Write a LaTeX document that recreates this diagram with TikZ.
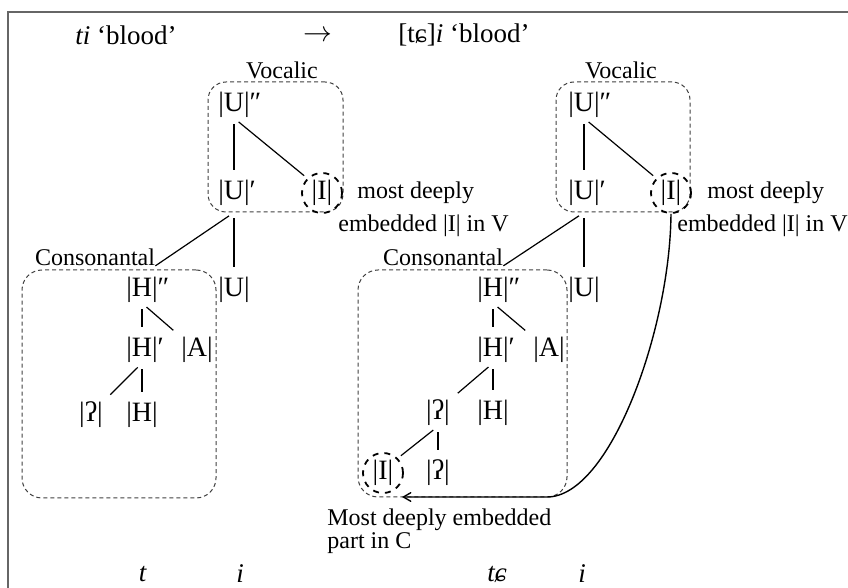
\documentclass[tikz,border=0pt]{standalone}
\usepackage{fontspec}
\setmainfont{Liberation Serif}
\usetikzlibrary{arrows}

\begin{document}
\begin{tikzpicture}[x=0.5pt,y=-0.5pt,>=angle 60,
                    feat node/.style={font=\fontsize{14}{16}\selectfont,inner sep=0pt},
                    ring node/.style={circle,draw,dashed,line width=0.9pt,minimum size=20pt,inner sep=0pt,
                                      font=\fontsize{14}{16}\selectfont},
                    tag node/.style={font=\fontsize{12}{14}\selectfont,inner sep=0pt},
                    note node/.style={tag node,anchor=west},
                    title node/.style={font=\fontsize{13.5}{16}\selectfont,inner sep=0pt},
                    box node/.style={draw=black!75,rounded corners=9pt,dash pattern=on 2pt off 1.5pt,line width=0.5pt},
                    branch/.style={line width=0.6pt,shorten <=3pt,shorten >=5pt}]
  \useasboundingbox (0,0) rectangle (848,588);
  \draw[line width=1pt,black!60] (8,588) -- (8,12) -- (848,12);

  % headings
  \node[title node,anchor=west] (srcL) at (75,35) {\textit{ti} ‘blood’};
  \node[title node] (arr) at (318,36) {$\rightarrow$};
  \node[title node,anchor=west] (srcR) at (398,35) {[tɕ]\textit{i} ‘blood’};

  % left structure
  \node[box node,minimum width=67.5pt,minimum height=65pt] (vocL) at (275.5,147) {};
  \node[tag node] (vocLlab) at (282,70) {Vocalic};
  \node[feat node] (vU2L) at (234,105) {|U|\rlap{″}};
  \node[feat node] (vU1L) at (234,193) {|U|\rlap{′}};
  \node[ring node] (vIL) at (322,193) {|I|};
  \node[note node] (mostL) at (357,193) {most deeply};
  \node[note node] (embL) at (338,226) {embedded |I| in V};
  \node[tag node] (consLlab) at (95,257) {Consonantal};
  \node[feat node] (uL) at (234,290) {|U|};
  \node[box node,minimum width=97pt,minimum height=114pt,rounded corners=10pt] (consL) at (119,384) {};
  \node[feat node] (hH2L) at (142,290) {|H|\rlap{″}};
  \node[feat node] (hH1L) at (142,350) {|H|\rlap{′}};
  \node[feat node] (aL) at (197,350) {|A|};
  \node[feat node] (gL) at (91,415) {|ʔ|};
  \node[feat node] (hH0L) at (142,415) {|H|};

  % right structure
  \node[box node,minimum width=67pt,minimum height=65pt] (vocR) at (623,147) {};
  \node[tag node] (vocRlab) at (621,70) {Vocalic};
  \node[feat node] (vU2R) at (584,105) {|U|\rlap{″}};
  \node[feat node] (vU1R) at (584,193) {|U|\rlap{′}};
  \node[ring node] (vIR) at (671,193) {|I|};
  \node[note node] (mostR) at (707,193) {most deeply};
  \node[note node] (embR) at (677,226) {embedded |I| in V};
  \node[tag node] (consRlab) at (443,257) {Consonantal};
  \node[feat node] (uR) at (584,290) {|U|};
  \node[box node,minimum width=104.5pt,minimum height=113.5pt,rounded corners=10pt] (consR) at (462.5,383.5) {};
  \node[feat node] (hH2R) at (493,290) {|H|\rlap{″}};
  \node[feat node] (hH1R) at (493,350) {|H|\rlap{′}};
  \node[feat node] (aR) at (549,350) {|A|};
  \node[feat node] (gR) at (438,413) {|ʔ|};
  \node[feat node] (hH0R) at (493,413) {|H|};
  \node[ring node] (cIR) at (383,473) {|I|};
  \node[feat node] (g2R) at (438,473) {|ʔ|};
  \node[note node] (partR) at (327,520) {Most deeply embedded};
  \node[note node] (partR2) at (327,543) {part in C};

  % segments
  \node[title node] (segT) at (143,574) {\textit{t}};
  \node[title node] (segI) at (240,574) {\textit{i}};
  \node[title node] (segTc) at (497,574) {\textit{tɕ}};
  \node[title node] (segI2) at (582,574) {\textit{i}};

  \path[branch]
    (vU2L.south) edge (vU1L.north)
                 edge [shorten >=2pt] (vIL.north west)
    (vocL.south -| vU1L) edge [shorten <=3pt,shorten >=0pt] (consLlab.south east)
                         edge (uL.north)
    (hH2L.south) edge (hH1L.north)
                 edge (aL.north west)
    (hH1L.south) edge (hH0L.north)
                 edge (gL.north east)
    (vU2R.south) edge (vU1R.north)
                 edge [shorten >=2pt] (vIR.north west)
    (vocR.south -| vU1R) edge [shorten <=3pt,shorten >=0pt] (consRlab.south east)
                         edge (uR.north)
    (hH2R.south) edge (hH1R.north)
                 edge (aR.north west)
    (hH1R.south) edge (hH0R.north)
                 edge (gR.north east)
    (gR.south) edge (g2R.north)
               edge [shorten >=2pt] (cIR.north east);

  % spreading of |I| into C
  \coordinate (bendR) at (547,497);
  \draw[->,line width=0.7pt] (vIR.south) .. controls (670,330) and (610,497) .. (bendR)
    -- ([xshift=9.5pt,yshift=-12pt]cIR.center);
\end{tikzpicture}
\end{document}
